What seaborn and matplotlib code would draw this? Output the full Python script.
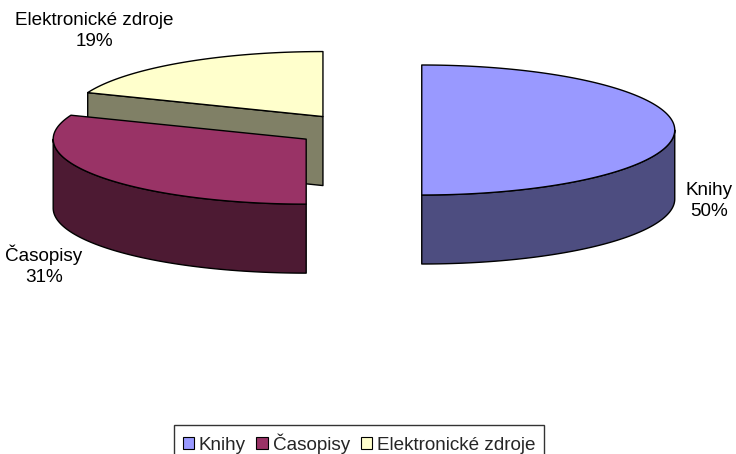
import numpy as np
import matplotlib
matplotlib.use("Agg")
import matplotlib.pyplot as plt
from matplotlib.patches import Polygon, Patch
from matplotlib.colors import to_rgb
import seaborn as sns

# ---- data ----
categories = ["Knihy", "Časopisy", "Elektronické zdroje"]
shares = [50, 31, 19]
top_colors = ["#9999FF", "#993366", "#FFFFCC"]
label_pos = [(709, 201), (44, 265), (94, 31)]  # label anchors (pixels)

# ---- style / layout ----
sns.set_theme(style="white")
plt.rcParams['font.family'] = ['Liberation Sans', 'DejaVu Sans']

W, H = 736, 454
CX, CY = 358.5, 130.0      # pie centre (pixels)
RX, RY = 253.0, 65.0       # ellipse radii
DEPTH = 69.0               # thickness
EXPLODE = 0.25             # fraction of radius
FS = 13.6

fig = plt.figure(figsize=(W / 100, H / 100), dpi=100)
ax = fig.add_axes([0, 0, 1, 1])
ax.set_xlim(0, W)
ax.set_ylim(H, 0)
ax.axis('off')


def shade(c, f=0.5):
    r, g, b = to_rgb(c)
    return (r * f, g * f, b * f)


total = float(sum(shares))
wedges = []
a = 0.0
for cat, v, col in zip(categories, shares, top_colors):
    a0, a1 = a, a + 360.0 * v / total
    a = a1
    mid = np.radians((a0 + a1) / 2)
    cx = CX + EXPLODE * RX * np.sin(mid)
    cy = CY - EXPLODE * RY * np.cos(mid)
    wedges.append(dict(cat=cat, a0=a0, a1=a1, c=(cx, cy), col=col))


def pt(c, th_deg, dz=0.0):
    t = np.radians(th_deg)
    return (c[0] + RX * np.sin(t), c[1] - RY * np.cos(t) + dz)


def arc(c, t0, t1, dz=0.0, n=200):
    ts = np.linspace(t0, t1, n)
    return [pt(c, t, dz) for t in ts]


kw = dict(edgecolor="black", linewidth=1.0, joinstyle="round")
for w in sorted(wedges, key=lambda d: d["c"][1]):
    c, a0, a1 = w["c"], w["a0"], w["a1"]
    side = shade(w["col"])
    # radial faces facing the viewer
    if np.sin(np.radians(a0)) < -1e-6:
        e = pt(c, a0)
        ax.add_patch(Polygon([c, e, (e[0], e[1] + DEPTH), (c[0], c[1] + DEPTH)],
                             closed=True, facecolor=side, **kw))
    if np.sin(np.radians(a1)) > 1e-6:
        e = pt(c, a1)
        ax.add_patch(Polygon([c, e, (e[0], e[1] + DEPTH), (c[0], c[1] + DEPTH)],
                             closed=True, facecolor=side, **kw))
    # curved front side
    s0, s1 = max(a0, 90.0), min(a1, 270.0)
    if s1 > s0:
        top = arc(c, s0, s1)
        bot = arc(c, s0, s1, DEPTH)
        ax.add_patch(Polygon(top + bot[::-1], closed=True, facecolor=side, **kw))
    # top face
    ax.add_patch(Polygon([c] + arc(c, a0, a1), closed=True, facecolor=w["col"], **kw))

for w, (lx, ly), v in zip(wedges, label_pos, shares):
    ax.text(lx, ly, f"{w['cat']}\n{v}%", ha="center", va="center",
            fontsize=FS, linespacing=1.28, color="black")

handles = [Patch(facecolor=col, edgecolor="black", linewidth=0.8) for col in top_colors]
leg = fig.legend(handles, categories, loc="upper center", ncol=3,
                 bbox_to_anchor=(359 / W, 1 - 425 / H), fontsize=FS,
                 frameon=True, fancybox=False, edgecolor="black",
                 handlelength=0.62, handleheight=0.62, handletextpad=0.25,
                 columnspacing=0.55, borderpad=0.45, borderaxespad=0)
leg.get_frame().set_linewidth(1.0)

fig.savefig("out.png", dpi=100, facecolor="white")
